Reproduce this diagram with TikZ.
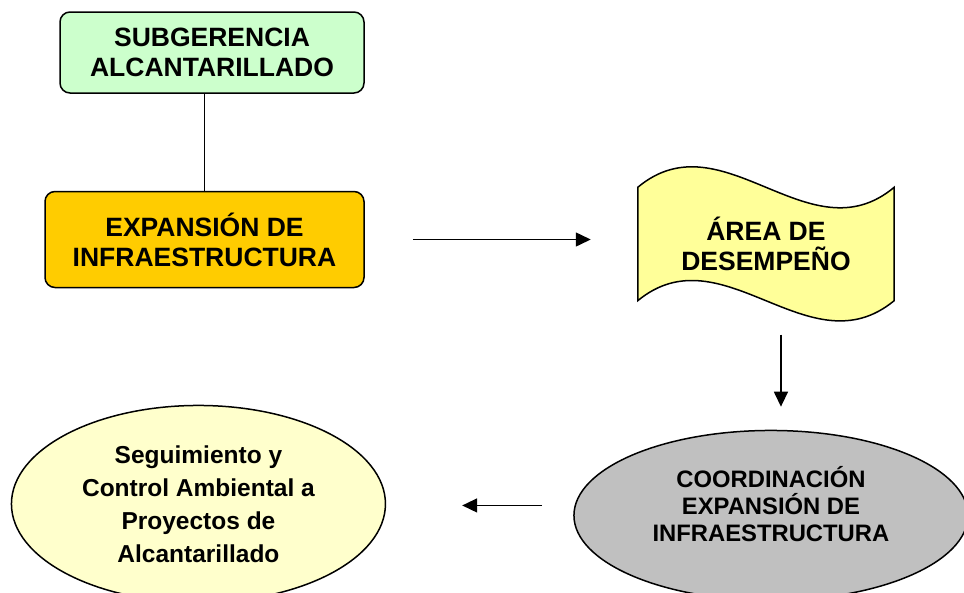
\documentclass[tikz,border=0pt]{standalone}
\usepackage{fontspec}
\setmainfont{Liberation Sans}
\usepackage{xcolor}
\usetikzlibrary{shapes,arrows.meta,positioning,backgrounds}

\definecolor{subgreen}{HTML}{CCFFCC}
\definecolor{expgold}{HTML}{FFCC00}
\definecolor{areayellow}{HTML}{FFFF99}
\definecolor{coordgray}{HTML}{C0C0C0}
\definecolor{segyellow}{HTML}{FFFFCC}

\begin{document}
\begin{tikzpicture}[
    x=1pt, y=-1pt,
    unitbox/.style={rectangle, draw, rounded corners=10pt, line width=1.5pt, inner sep=0pt, align=center, font=\bfseries\fontsize{26.5}{30}\selectfont},
    unitellipse/.style={ellipse, draw, line width=1.5pt, inner sep=0pt, align=center},
    flowarrow/.style={-{Triangle[length=15pt,width=14pt]}, line width=1.5pt}
]
\clip (0,0) rectangle (964,592);
\node[unitbox, fill=subgreen, minimum width=304pt, minimum height=81pt] (sub) at (212,52.5) {SUBGERENCIA\\ALCANTARILLADO};
\node[unitbox, fill=expgold, minimum width=319pt, minimum height=96pt, below=97pt of sub, xshift=-7.5pt] (exp) {EXPANSIÓN DE\\INFRAESTRUCTURA};
\node[minimum width=256pt, minimum height=113pt, inner sep=0pt, align=center, font=\bfseries\fontsize{26.5}{30}\selectfont, right=273pt of exp, yshift=-4.5pt] (area) {ÁREA DE\\DESEMPEÑO};
\node[unitellipse, fill=coordgray, minimum width=394pt, minimum height=170pt, text depth=24pt, font=\bfseries\fontsize{23.8}{27}\selectfont, below=129pt of area, xshift=5pt] (coord) {COORDINACIÓN\\EXPANSIÓN DE\\INFRAESTRUCTURA};
\node[unitellipse, fill=segyellow, minimum width=374pt, minimum height=197pt, font=\bfseries\fontsize{24.5}{33}\selectfont, left=187pt of coord, yshift=11.5pt] (seg) {Seguimiento y\\Control Ambiental a\\Proyectos de\\Alcantarillado};

% banner behind the area text
\begin{scope}[on background layer]
\draw[fill=areayellow, line width=1.5pt] (area.north west) .. controls ([shift={(85pt,71pt)}]area.north west) and ([shift={(-85pt,-71pt)}]area.north east) .. (area.north east)
    -- (area.south east) .. controls ([shift={(-85pt,-70pt)}]area.south east) and ([shift={(85pt,70pt)}]area.south west) .. (area.south west) -- cycle;
\end{scope}

\draw[line width=1.5pt] (exp.north) -- (exp.north |- sub.south);
\draw[flowarrow] ([xshift=48pt]exp.east) -- ([xshift=-47pt,yshift=4.5pt]area.west);
\draw[flowarrow] ([xshift=15pt,yshift=-34pt]area.south) -- ([xshift=10pt,yshift=23pt]coord.north);
\draw[flowarrow] ([xshift=-31pt,yshift=10pt]coord.west) -- ([xshift=76pt,yshift=-1.5pt]seg.east);
\end{tikzpicture}
\end{document}
